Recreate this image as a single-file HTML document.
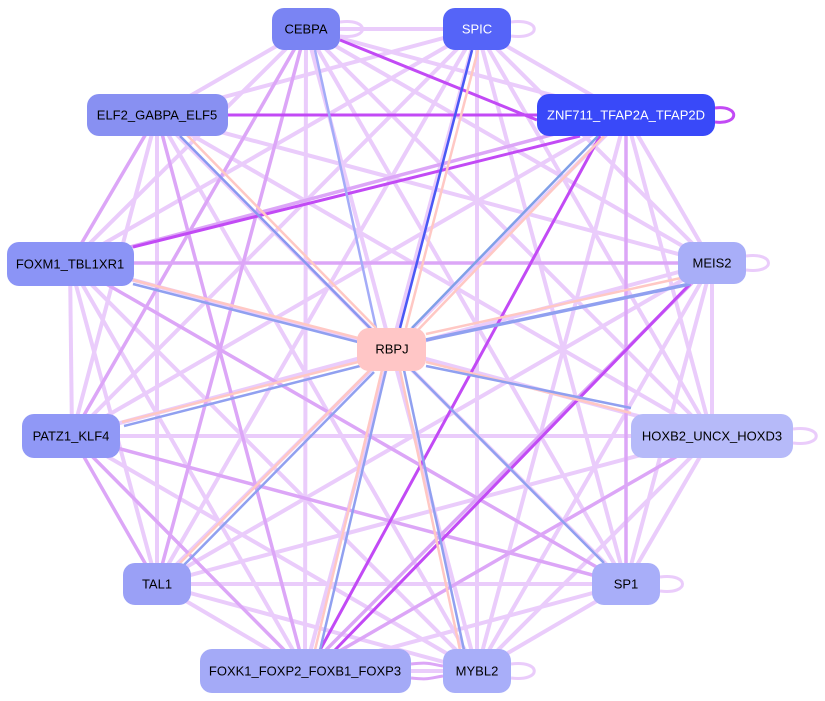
<!DOCTYPE html>
<html><head><meta charset="utf-8"><style>
html,body{margin:0;padding:0;background:#fff;width:825px;height:701px;overflow:hidden}
svg{display:block}
text{font-family:"Liberation Sans",Arial,sans-serif;font-size:13px;text-anchor:middle;dominant-baseline:central}
</style></head><body>
<svg width="825" height="701" viewBox="0 0 825 701">
<g stroke="#eaccfb" stroke-width="4" fill="none">
<line x1="306" y1="29" x2="477" y2="29"/>
<line x1="306" y1="29" x2="626" y2="115"/>
<line x1="306" y1="29" x2="157" y2="115"/>
<line x1="306" y1="29" x2="70" y2="263"/>
<line x1="306" y1="29" x2="712" y2="263"/>
<line x1="306" y1="29" x2="712" y2="436"/>
<line x1="306" y1="29" x2="626" y2="584"/>
<line x1="306" y1="29" x2="305" y2="671"/>
<line x1="306" y1="29" x2="477" y2="671"/>
<line x1="477" y1="29" x2="626" y2="115"/>
<line x1="477" y1="29" x2="157" y2="115"/>
<line x1="477" y1="29" x2="70" y2="263"/>
<line x1="477" y1="29" x2="712" y2="263"/>
<line x1="477" y1="29" x2="72" y2="436"/>
<line x1="477" y1="29" x2="712" y2="436"/>
<line x1="477" y1="29" x2="157" y2="584"/>
<line x1="477" y1="29" x2="626" y2="584"/>
<line x1="477" y1="29" x2="305" y2="671"/>
<line x1="477" y1="29" x2="477" y2="671"/>
<line x1="626" y1="115" x2="712" y2="263"/>
<line x1="626" y1="115" x2="72" y2="436"/>
<line x1="626" y1="115" x2="712" y2="436"/>
<line x1="626" y1="115" x2="157" y2="584"/>
<line x1="626" y1="115" x2="477" y2="671"/>
<line x1="157" y1="115" x2="712" y2="263"/>
<line x1="157" y1="115" x2="72" y2="436"/>
<line x1="157" y1="115" x2="712" y2="436"/>
<line x1="157" y1="115" x2="157" y2="584"/>
<line x1="157" y1="115" x2="626" y2="584"/>
<line x1="157" y1="115" x2="477" y2="671"/>
<line x1="70" y1="263" x2="72" y2="436"/>
<line x1="70" y1="263" x2="712" y2="436"/>
<line x1="70" y1="263" x2="157" y2="584"/>
<line x1="70" y1="263" x2="305" y2="671"/>
<line x1="70" y1="263" x2="477" y2="671"/>
<line x1="712" y1="263" x2="72" y2="436"/>
<line x1="712" y1="263" x2="712" y2="436"/>
<line x1="712" y1="263" x2="157" y2="584"/>
<line x1="712" y1="263" x2="626" y2="584"/>
<line x1="712" y1="263" x2="477" y2="671"/>
<line x1="72" y1="436" x2="712" y2="436"/>
<line x1="72" y1="436" x2="477" y2="671"/>
<line x1="712" y1="436" x2="157" y2="584"/>
<line x1="712" y1="436" x2="626" y2="584"/>
<line x1="712" y1="436" x2="477" y2="671"/>
<line x1="157" y1="584" x2="626" y2="584"/>
<line x1="157" y1="584" x2="305" y2="671"/>
<line x1="157" y1="584" x2="477" y2="671"/>
<line x1="626" y1="584" x2="305" y2="671"/>
<line x1="626" y1="584" x2="477" y2="671"/>
<line x1="305" y1="671" x2="477" y2="671"/>
</g>
<g stroke="#dca6f7" stroke-width="3.5" fill="none">
<line x1="70" y1="263" x2="712" y2="263"/>
<line x1="306" y1="29" x2="72" y2="436"/>
<line x1="157" y1="115" x2="305" y2="671"/>
<line x1="157" y1="115" x2="70" y2="263"/>
<line x1="72" y1="436" x2="626" y2="584"/>
<line x1="72" y1="436" x2="305" y2="671"/>
<line x1="72" y1="436" x2="157" y2="584"/>
<line x1="70" y1="263" x2="626" y2="584"/>
<line x1="712" y1="263" x2="305" y2="671"/>
<line x1="712" y1="436" x2="305" y2="671"/>
<line x1="626" y1="115" x2="626" y2="584"/>
<line x1="306" y1="29" x2="157" y2="584"/>
<line x1="626" y1="115" x2="70" y2="263"/>
</g>
<g stroke="#c24af5" stroke-width="3" fill="none">
<line x1="537" y1="120" x2="340" y2="40"/>
<line x1="228" y1="115" x2="537" y2="115"/>
<line x1="580" y1="136" x2="133" y2="247"/>
<line x1="320" y1="650" x2="600" y2="136"/>
<line x1="335" y1="650" x2="690" y2="284"/>
<path d="M715,108 C740,105 740,125 715,122"/>
</g>
<g fill="none" stroke-width="2.5">
<line x1="315" y1="50" x2="376" y2="328" stroke="#a4acf8"/>
<line x1="472" y1="50" x2="400" y2="328" stroke="#4a58f5"/>
<line x1="478" y1="50" x2="406" y2="328" stroke="#ffc8c4"/>
<line x1="180" y1="136" x2="372" y2="330" stroke="#8898f0"/>
<line x1="186" y1="134" x2="376" y2="328" stroke="#ffc8c4"/>
<line x1="598" y1="136" x2="412" y2="328" stroke="#80a0e8"/>
<line x1="604" y1="136" x2="418" y2="330" stroke="#ffc8c4"/>
<line x1="690" y1="284" x2="426" y2="340" stroke="#90a0f0" stroke-width="3.5"/>
<line x1="690" y1="276" x2="426" y2="334" stroke="#ffc8c4"/>
<line x1="133" y1="284" x2="358" y2="342" stroke="#90a0f0"/>
<line x1="133" y1="280" x2="358" y2="338" stroke="#ffc8c4"/>
<line x1="426" y1="362" x2="631" y2="413" stroke="#ffc8c4"/>
<line x1="631" y1="408" x2="426" y2="366" stroke="#90a0f0"/>
<line x1="122" y1="422" x2="358" y2="362" stroke="#ffc8c4"/>
<line x1="124" y1="426" x2="360" y2="366" stroke="#90a0f0"/>
<line x1="180" y1="563" x2="370" y2="370" stroke="#ffc8c4"/>
<line x1="184" y1="565" x2="374" y2="372" stroke="#90a0f0"/>
<line x1="604" y1="563" x2="412" y2="370" stroke="#90a0f0"/>
<line x1="460" y1="650" x2="400" y2="370" stroke="#ffc8c4"/>
<line x1="464" y1="650" x2="404" y2="370" stroke="#90a0f0"/>
<line x1="315" y1="650" x2="382" y2="370" stroke="#ffc8c4"/>
<line x1="320" y1="650" x2="386" y2="370" stroke="#90a0f0"/>
</g>
<g stroke="#eaccfb" stroke-width="3" fill="none">
<path d="M340,22 C370,18 370,40 340,36"/>
<path d="M511,22 C542,18 542,40 511,36"/>
<path d="M746,256 C776,252 776,274 746,270"/>
<path d="M793,429 C824,425 824,447 793,443"/>
<path d="M660,577 C690,573 690,595 660,591"/>
<path d="M511,664 C542,660 542,682 511,678"/>
<path d="M411,664 C430,662 430,664 443,666" stroke="#dca6f7"/>
<path d="M411,678 C430,680 430,678 443,676" stroke="#dca6f7"/>
</g>
<rect x="272" y="8" width="68" height="42" rx="12" fill="#7a84f3"/>
<text x="306" y="29" fill="#000">CEBPA</text>
<rect x="443" y="8" width="68" height="42" rx="12" fill="#5564f8"/>
<text x="477" y="29" fill="#fff">SPIC</text>
<rect x="537" y="94" width="178" height="42" rx="12" fill="#3949f9"/>
<text x="626" y="115" fill="#fff">ZNF711_TFAP2A_TFAP2D</text>
<rect x="87" y="94" width="141" height="42" rx="12" fill="#8890f2"/>
<text x="157" y="115" fill="#000">ELF2_GABPA_ELF5</text>
<rect x="7" y="242" width="127" height="44" rx="12" fill="#8b94f6"/>
<text x="70" y="264" fill="#000">FOXM1_TBL1XR1</text>
<rect x="678" y="242" width="68" height="42" rx="12" fill="#a8aef8"/>
<text x="712" y="263" fill="#000">MEIS2</text>
<rect x="357" y="328" width="69" height="43" rx="12" fill="#ffc6c6"/>
<text x="392" y="349" fill="#000">RBPJ</text>
<rect x="22" y="414" width="98" height="44" rx="12" fill="#9098f6"/>
<text x="71" y="436" fill="#000">PATZ1_KLF4</text>
<rect x="631" y="414" width="162" height="44" rx="12" fill="#b6baf9"/>
<text x="712" y="436" fill="#000">HOXB2_UNCX_HOXD3</text>
<rect x="123" y="563" width="68" height="42" rx="12" fill="#9aa0f6"/>
<text x="157" y="584" fill="#000">TAL1</text>
<rect x="592" y="563" width="68" height="42" rx="12" fill="#a8aef9"/>
<text x="626" y="584" fill="#000">SP1</text>
<rect x="200" y="649" width="211" height="44" rx="12" fill="#a4aaf7"/>
<text x="305" y="671" fill="#000">FOXK1_FOXP2_FOXB1_FOXP3</text>
<rect x="443" y="649" width="68" height="44" rx="12" fill="#a8aef9"/>
<text x="477" y="671" fill="#000">MYBL2</text>
</svg>
</body></html>
